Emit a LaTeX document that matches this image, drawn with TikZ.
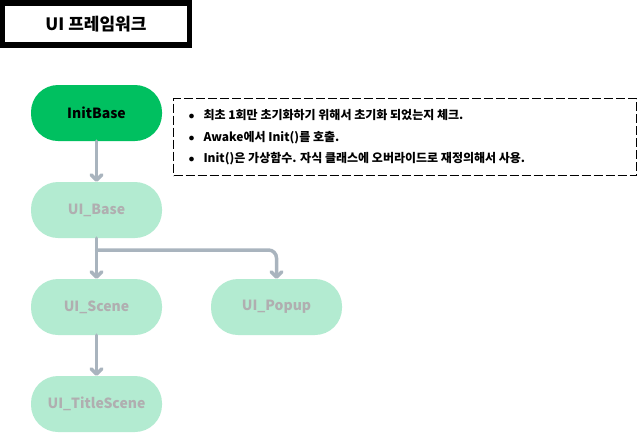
\documentclass[tikz,border=0pt]{standalone}
\usepackage{fontspec}
\setmainfont{Noto Sans CJK KR}
\usetikzlibrary{arrows.meta}
\definecolor{darkgreen}{HTML}{00C060}
\definecolor{mint}{HTML}{B3EBD1}
\definecolor{greytext}{HTML}{B0AEB0}
\definecolor{arrowgrey}{HTML}{A9B4BE}
\begin{document}
\begin{tikzpicture}[x=1pt,y=-1pt,
  pill/.style={rounded corners=27pt,minimum width=131pt,minimum height=56pt,inner sep=0pt,font=\fontsize{14}{16}\selectfont\bfseries},
  base/.style={pill,fill=mint,text=greytext},
  conn/.style={draw=arrowgrey,line width=3.5pt,line cap=round,rounded corners=8pt,-{Straight Barb[angle=90:7.5pt,line cap=round,line join=round]}}]
\useasboundingbox (0,0) rectangle (639,432);
\node[draw=black,line width=5.5pt,minimum width=187pt,minimum height=42pt,inner sep=0pt,font=\fontsize{17}{19}\selectfont\bfseries] (title) at (96,24) {UI 프레임워크};
\node[pill,fill=darkgreen,text=black] (init) at (96.5,113) {InitBase};
\node[base] (base) at (96.5,210) {UI\_Base};
\node[base] (scene) at (96.5,307) {UI\_Scene};
\node[base] (popup) at (276.5,307) {UI\_Popup};
\node[base] (title2) at (96.5,404) {UI\_TitleScene};
\node[draw=black,line width=1.8pt,dash pattern=on 9pt off 3pt,minimum width=463pt,minimum height=77pt,inner sep=0pt] (note) at (405,137) {};
\node[anchor=west,align=left,font=\fontsize{12}{21.5}\selectfont\bfseries] (notetext) at (185,137.5) {%
$\bullet$\hspace{9pt}최초 1회만 초기화하기 위해서 초기화 되었는지 체크.\\
$\bullet$\hspace{9pt}Awake에서 Init()를 호출.\\
$\bullet$\hspace{9pt}Init()은 가상함수. 자식 클래스에 오버라이드로 재정의해서 사용.};
\draw[conn] (init.south) -- (base.north);
\draw[conn] (base.south) -- (scene.north);
\draw[conn] (scene.south) -- (title2.north);
\coordinate (bend) at (96.5,250);
\draw[conn] (bend) -| (popup.north);
\end{tikzpicture}
\end{document}
